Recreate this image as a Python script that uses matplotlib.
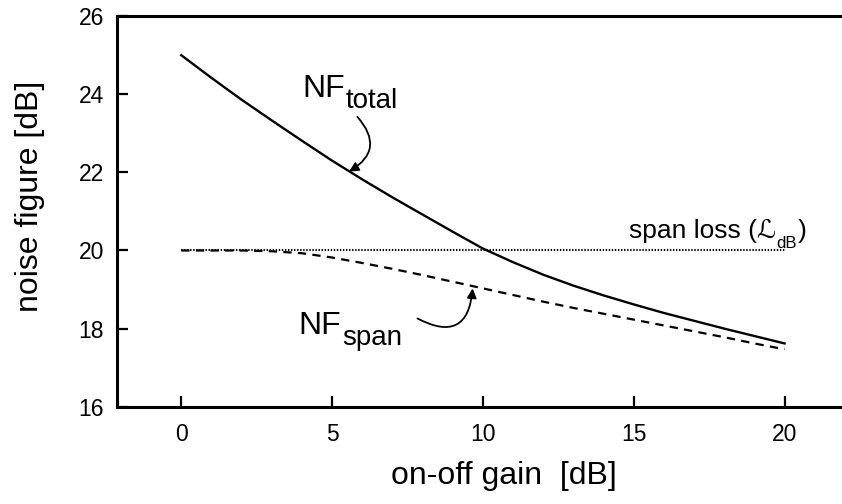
import numpy as np
import matplotlib
matplotlib.use('Agg')
import matplotlib.pyplot as plt

plt.rcParams['font.family'] = ['Liberation Sans', 'DejaVu Sans']
plt.rcParams['lines.scale_dashes'] = False

# values
gain = [0, 1, 2, 3, 4, 5, 6, 7, 8, 9, 10, 11, 12, 13, 14, 15, 16, 17, 18, 19, 20]
nf_total = [25.00, 24.42, 23.86, 23.33, 22.81, 22.30, 21.82, 21.36, 20.92, 20.48, 20.05,
            19.70, 19.38, 19.10, 18.85, 18.62, 18.40, 18.20, 18.00, 17.81, 17.62]
nf_span = [20.00, 20.00, 20.00, 19.98, 19.93, 19.82, 19.68, 19.53, 19.37, 19.20, 19.03,
           18.86, 18.69, 18.53, 18.38, 18.23, 18.08, 17.93, 17.78, 17.62, 17.47]
loss_gain = [0, 20]
span_loss = [20, 20]

xticks = [0, 5, 10, 15, 20]
yticks = [16, 18, 20, 22, 24, 26]

fig = plt.figure(figsize=(8.42, 5.04), dpi=100)
ax = fig.add_axes([0.1386, 0.193, 0.8634, 0.775])

ax.plot(loss_gain, span_loss, color='black', lw=1.5, dashes=(1.0, 1.2))
ax.plot(gain, nf_span, color='black', lw=1.6, dashes=(6.0, 4.5))
ax.plot(gain, nf_total, color='black', lw=1.7)

ax.set_xlim(-2.14, 21.96)
ax.set_ylim(16, 26)
ax.set_xticks(xticks)
ax.set_yticks(yticks)
ax.tick_params(direction='in', length=8, width=1.6, labelsize=16.5)
ax.tick_params(axis='x', pad=12)
ax.tick_params(axis='y', pad=9)
for side in ['left', 'top', 'bottom']:
    ax.spines[side].set_linewidth(2.2)
ax.spines['right'].set_visible(False)

ax.set_xlabel('on-off gain  [dB]', fontsize=23, va='center')
ax.xaxis.set_label_coords(0.532, -0.177)
ax.set_ylabel('noise figure [dB]', fontsize=23, va='center')
ax.yaxis.set_label_coords(-0.1195, 0.539)

# NF_total label + arrow
t1 = ax.text(4.02, 23.93, 'NF', fontsize=23, ha='left', va='baseline')
ax.annotate('total', xy=(1, 0), xycoords=t1, xytext=(0.5, -7.3),
            textcoords='offset points', fontsize=20, ha='left', va='bottom')
ax.annotate('', xy=(5.56, 22.02), xytext=(5.84, 23.42),
            arrowprops=dict(arrowstyle='-|>', connectionstyle='arc3,rad=-0.6',
                            lw=1.3, color='black', mutation_scale=14,
                            shrinkA=0, shrinkB=0))

# NF_span label + arrow
t2 = ax.text(3.89, 17.86, 'NF', fontsize=23, ha='left', va='baseline')
ax.annotate('span', xy=(1, 0), xycoords=t2, xytext=(0.5, -7.3),
            textcoords='offset points', fontsize=20, ha='left', va='bottom')
ax.annotate('', xy=(9.66, 19.03), xytext=(7.83, 18.26),
            arrowprops=dict(arrowstyle='-|>', connectionstyle='arc3,rad=0.75',
                            lw=1.3, color='black', mutation_scale=14,
                            shrinkA=0, shrinkB=0))

# span loss label
t3 = ax.text(14.85, 20.32, 'span loss (\u2112', fontsize=19, ha='left', va='baseline')
t4 = ax.annotate('dB', xy=(1, 0), xycoords=t3, xytext=(0.3, -5.7),
                 textcoords='offset points', fontsize=12, ha='left', va='bottom')
ax.annotate(')', xy=(1, 0), xycoords=(t4, t3), xytext=(0.5, 0),
            textcoords='offset points', fontsize=19, ha='left', va='bottom')

fig.savefig('out.png', dpi=100)
